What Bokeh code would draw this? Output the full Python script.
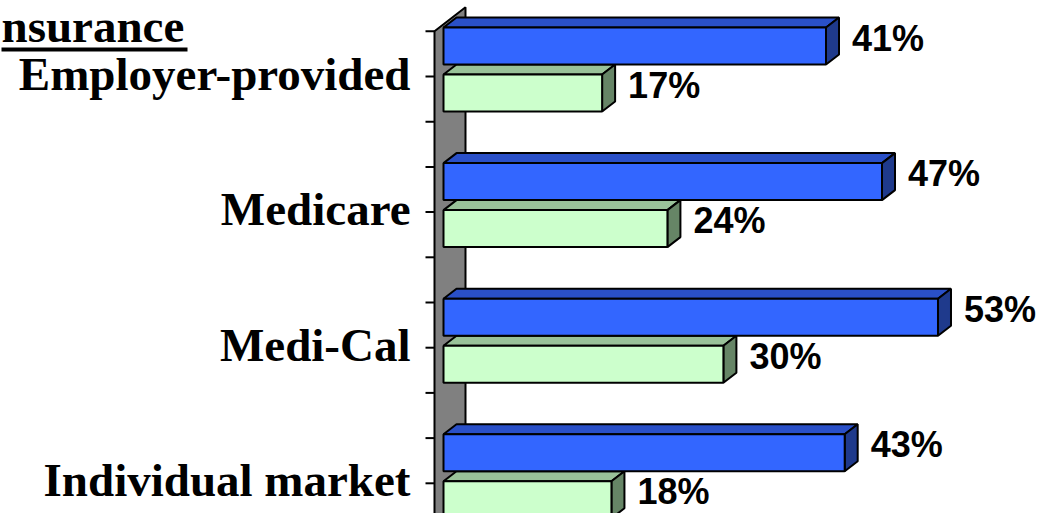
from bokeh.plotting import figure
from bokeh.models import Range1d, ColumnDataSource
from bokeh.core.properties import value
from bokeh.embed import file_html
from bokeh.resources import INLINE

# ---- data ----
categories = ["Employer-provided", "Medicare", "Medi-Cal", "Individual market"]
series_blue = [41, 47, 53, 43]
series_green = [17, 24, 30, 18]
pct_labels_blue = ["41%", "47%", "53%", "43%"]
pct_labels_green = ["17%", "24%", "30%", "18%"]
tick_steps = list(range(-1, 10))      # ticks every third of a category
title_text = "nsurance"

# ---- layout constants (pixels) ----
W, H = 1039, 513
WALL_X = 434      # canvas x of value 0 on the front plane
S = 9.33          # px per percent
T = 45.2          # px per tick step (a third of a category)
C0 = 76           # canvas y of first category centre


def dx(px):
    return px / S


def dy(px):
    return px / T


p = figure(width=W, height=H, output_backend="svg", toolbar_location=None,
           x_range=Range1d(-WALL_X / S, (W - WALL_X) / S),
           y_range=Range1d((H - C0) / T, -C0 / T),
           x_axis_location=None, y_axis_location=None, min_border=0)
p.outline_line_color = None
p.grid.visible = False
p.background_fill_color = "white"
p.border_fill_color = "white"

y_bottom = (H - C0) / T + 1

# wall (the value = 0 plane, seen in depth)
WALL_D = (31, -24)
p.patch(x=[0, dx(WALL_D[0]), dx(WALL_D[0]), 0],
        y=[tick_steps[0], tick_steps[0] + dy(WALL_D[1]), y_bottom, y_bottom],
        fill_color="#808080", line_color="black", line_width=2)

# axis ticks on the wall's front edge
p.segment(x0=[-dx(9)] * len(tick_steps), x1=[0] * len(tick_steps),
          y0=tick_steps, y1=tick_steps, line_color="black", line_width=2)

# category labels
p.text(x=[-dx(24)] * len(categories),
       y=[3 * i + dy(-3) for i in range(len(categories))],
       text=categories, text_font=value("Liberation Serif"),
       text_font_style="bold", text_font_size="47px", text_align="right",
       text_baseline="middle", text_color="black")

# bars (3-D look: top face, side face, front face)
FRONT = (9, -7)
BACK = (22, -17)
HALF_H = 18.5
OFFS = {"blue": -23.5, "green": 23.5}
colors = {
    "blue": ("#3366FF", "#2A50C8", "#1F3A8C"),
    "green": ("#CCFFCC", "#99C299", "#668566"),
}

faces = {k: dict(xs=[], ys=[], c=[]) for k in ("top", "side", "front")}
lab = dict(x=[], y=[], t=[])
for i, cat in enumerate(categories):
    for name, vals, labs in (("blue", series_blue, pct_labels_blue),
                             ("green", series_green, pct_labels_green)):
        v = vals[i]
        c = 3 * i + dy(OFFS[name])
        top, bot = c - dy(HALF_H), c + dy(HALF_H)
        fx, fy = dx(FRONT[0]), dy(FRONT[1])
        bx, by = dx(BACK[0]), dy(BACK[1])
        cf, ct, cs = colors[name]
        faces["top"]["xs"].append([fx, v + fx, v + bx, bx])
        faces["top"]["ys"].append([top + fy, top + fy, top + by, top + by])
        faces["top"]["c"].append(ct)
        faces["side"]["xs"].append([v + fx, v + bx, v + bx, v + fx])
        faces["side"]["ys"].append([top + fy, top + by, bot + by, bot + fy])
        faces["side"]["c"].append(cs)
        faces["front"]["xs"].append([fx, v + fx, v + fx, fx])
        faces["front"]["ys"].append([top + fy, top + fy, bot + fy, bot + fy])
        faces["front"]["c"].append(cf)
        lab["x"].append(v + dx(FRONT[0] + 26))
        lab["y"].append(c + dy(-15))
        lab["t"].append(labs[i])

for key in ("top", "side", "front"):
    p.patches(xs="xs", ys="ys", fill_color="c", line_color="black",
              line_width=2, source=ColumnDataSource(faces[key]))

p.text(x="x", y="y", text="t", source=ColumnDataSource(lab),
       text_font=value("Liberation Sans"), text_font_style="bold",
       text_font_size="36px", text_baseline="middle", text_align="left",
       text_color="black")

# partial, underlined heading at top-left
tx = dx(1 - WALL_X)
p.text(x=[tx], y=[dy(25 - C0)], text=[title_text],
       text_font=value("Liberation Serif"), text_font_style="bold",
       text_font_size="47px", text_baseline="middle", text_align="left",
       text_color="black")
p.segment(x0=[tx], x1=[tx + dx(186)], y0=[dy(49 - C0)], y1=[dy(49 - C0)],
          line_color="black", line_width=4)

open("out.html", "w").write(file_html(p, INLINE))
